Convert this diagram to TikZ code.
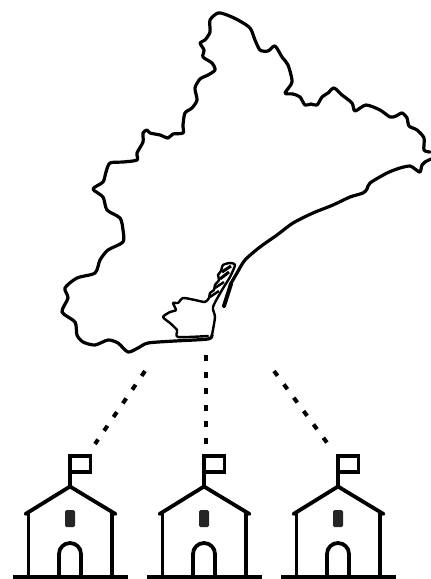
\documentclass[tikz,border=0pt]{standalone}
\tikzset{
  outline/.style={line width=3.2pt,line join=round,line cap=round},
  thinline/.style={line width=2.4pt,line join=round,line cap=round},
  wall/.style={line width=3.8pt,line join=miter},
  dotline/.style={line width=4pt,dash pattern=on 6pt off 10.6pt}
}
\begin{document}
\begin{tikzpicture}[x=1pt,y=-1pt]
  \useasboundingbox (0,0) rectangle (431,579);
  % inland border
  \draw[outline] plot[smooth,tension=0.45] coordinates {
    (430,152) (424,150) (424,138) (417,130) (409,126) (407,118) (402,113) (396,116) (390,117)
    (380,110) (366,105) (355,111) (352,103) (342,95) (334,88) (328,93) (322,97) (317,105)
    (311,104) (305,105) (300,97) (293,94) (285,93) (292,82) (288,65) (282,57) (275,46)
    (268,51) (260,50) (255,40) (250,28) (238,20) (227,15) (218,13) (210,20) (210,32)
    (205,40) (200,43) (204,50) (203,57) (212,63) (215,70) (208,75) (200,79) (195,88)
    (197,100) (192,108) (185,113) (183,125) (183,133) (173,134) (168,138) (160,135) (150,133)
    (147,130) (143,133) (143,142) (137,153) (137,160) (123,162) (110,163) (106,172) (103,182)
    (93,189) (103,197) (107,210) (120,218) (123,230) (123,242) (108,250) (100,260) (95,273)
    (77,278) (65,288) (68,298) (62,312) (75,322) (77,335) (83,342) (95,345) (108,340)
    (118,343) (128,352) (138,348) (148,343) (175,341) (208,339) (212,335)};
  % coast
  \draw[outline] plot[smooth,tension=0.45] coordinates {
    (431,159) (425,162) (422,165) (420,172) (415,169) (410,166) (400,168) (387,173) (370,183)
    (367,189) (363,193) (350,197) (333,205) (313,213) (293,223) (277,235) (260,247) (245,260)
    (237,273) (230,285)};
  \draw[line width=4pt,line cap=round] (231,284) -- (224,306);
  % delta and the bay behind it
  \draw[thinline] plot[smooth,tension=0.4] coordinates {
    (212,335) (215,317) (213,307) (222,290) (230,277) (235,265) (230,263) (223,265) (221,271)
    (218,275) (219,280) (215,285) (214,290) (210,293) (209,298) (205,302) (195,300) (183,298)
    (178,303) (173,303) (176,310) (170,312) (163,317) (170,323) (177,330) (178,337) (208,336)};
  \draw[line width=3pt] (222,272) -- (231,266);
  \draw[line width=3pt] (220,279) -- (229,272);
  \draw[line width=2.4pt] (215,288) -- (224,282);
  \draw[line width=2.4pt] (210,297) -- (219,291);
  % lines down to the schools
  \coordinate (mapleft) at (145,371);
  \coordinate (mapmid) at (206,355);
  \coordinate (mapright) at (274,371);
  \coordinate (flagleft) at (95,444);
  \coordinate (flagmid) at (206,444);
  \coordinate (flagright) at (328,444);
  \draw[dotline] (mapleft) -- (flagleft);
  \draw[dotline] (mapmid) -- (flagmid);
  \draw[dotline] (mapright) -- (flagright);
  % schools
  \foreach \dx in {0,134,268} {
    \begin{scope}[shift={(\dx,0)}]
      \draw[line width=4pt] (13,576.5) -- (128,576.5);
      \draw[wall] (70,487) -- (70,456) -- (90.5,456) -- (90.5,472) -- (70,472);
      \draw[wall,line cap=round,line join=round] (25.5,514) -- (70,486.5) -- (115.5,514);
      \draw[wall] (28.5,513) -- (28.5,576);
      \draw[wall] (112,513) -- (112,576);
      \draw[wall] (59,576) -- (59,554) arc[start angle=180,end angle=360,radius=11] -- (81,576);
      \fill[black!85,rounded corners=1.5pt] (65,510) rectangle (75,527);
    \end{scope}
  }
\end{tikzpicture}
\end{document}
